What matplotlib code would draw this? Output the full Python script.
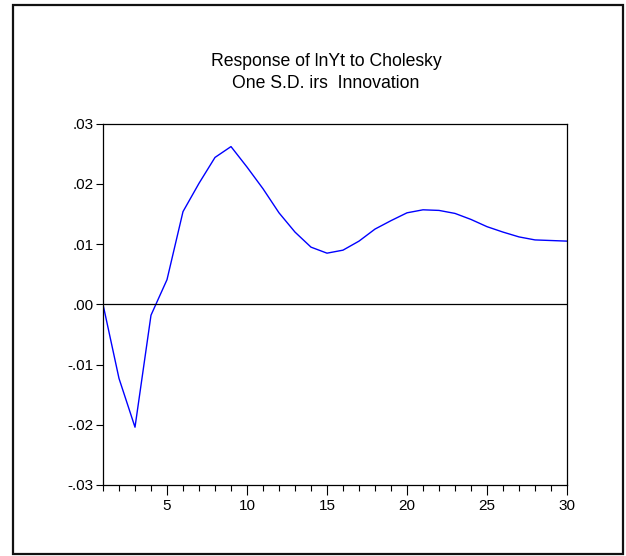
import numpy as np
import matplotlib
matplotlib.use('Agg')
import matplotlib.pyplot as plt
from matplotlib.patches import Rectangle
from matplotlib.ticker import MultipleLocator, FuncFormatter

plt.rcParams['font.family'] = ['Liberation Sans', 'DejaVu Sans']

# impulse response, periods 1..30
periods = list(range(1, 31))
response = [0.0000, -0.0123, -0.0204, -0.0018, 0.0041, 0.0154, 0.0201, 0.0244,
            0.0262, 0.0228, 0.0192, 0.0152, 0.0120, 0.0095, 0.0085, 0.0090,
            0.0105, 0.0125, 0.0139, 0.0152, 0.0157, 0.0156, 0.0151, 0.0141,
            0.0129, 0.0120, 0.0112, 0.0107, 0.0106, 0.0105]
title_lines = ['Response of lnYt to Cholesky', 'One S.D. irs  Innovation']
y_ticks = [-0.03, -0.02, -0.01, 0.00, 0.01, 0.02, 0.03]
x_major = [5, 10, 15, 20, 25, 30]

W, H = 626, 556
fig = plt.figure(figsize=(W / 100, H / 100), dpi=100)

# outer frame like the eviews graph box
fig.patches.append(Rectangle((13 / W, 2 / H), 610 / W, 549 / H, transform=fig.transFigure,
                             fill=False, edgecolor='#111111', linewidth=1.6))

ax = fig.add_axes([103 / W, 71 / H, 464 / W, 361.3 / H])
ax.plot(periods, response, color='#0000ff', linewidth=1.0)
ax.axhline(0, color='black', linewidth=0.9)

ax.set_xlim(1, 30)
ax.set_ylim(-0.03, 0.03)
ax.set_yticks(y_ticks)
ax.yaxis.set_major_formatter(FuncFormatter(lambda v, p: ('%.2f' % v).replace('0.', '.').replace('-.00', '.00')))
ax.set_xticks(x_major)
ax.xaxis.set_minor_locator(MultipleLocator(1))
ax.tick_params(axis='both', which='major', labelsize=11, direction='out', width=0.8, color='black')
ax.tick_params(axis='x', which='major', length=7, pad=3)
ax.tick_params(axis='x', which='minor', length=4, width=0.8, direction='out')
ax.tick_params(axis='y', which='major', length=5, pad=2)
for s in ax.spines.values():
    s.set_linewidth(0.9)

fig.text(326 / W, 1 - 62 / H, title_lines[0], ha='center', va='center', fontsize=12.7)
fig.text(326 / W, 1 - 83 / H, title_lines[1], ha='center', va='center', fontsize=12.7)

fig.savefig('out.png', dpi=100)
